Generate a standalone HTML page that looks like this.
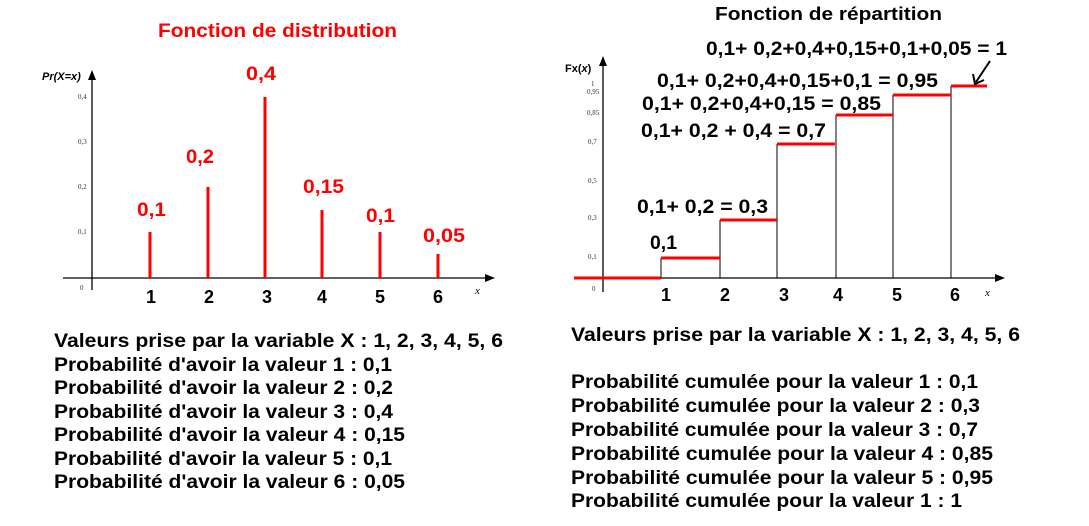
<!DOCTYPE html>
<html><head><meta charset="utf-8"><style>
html,body{margin:0;padding:0;background:#fff;}
svg{display:block;font-family:"Liberation Sans",Arial,sans-serif;}
.b{font-weight:bold;}
</style></head><body>
<svg width="1089" height="526" viewBox="0 0 1089 526" xmlns="http://www.w3.org/2000/svg">
<rect width="1089" height="526" fill="#fff"/>
<!-- LEFT -->
<text x="158" y="37" class="b" font-size="19" fill="#f00" textLength="239" lengthAdjust="spacingAndGlyphs">Fonction de distribution</text>
<line x1="92" y1="290" x2="92" y2="76" stroke="#000" stroke-width="1.3"/>
<polygon points="92,70 88,80 96,80" fill="#000"/>
<line x1="63" y1="278" x2="488" y2="278" stroke="#000" stroke-width="1.3"/>
<polygon points="495,278 485,274 485,282" fill="#000"/>
<text x="42" y="80" font-size="11" class="b" font-style="italic" fill="#000">Pr(X=x)</text>
<g font-size="7" fill="#333" font-family="Liberation Serif,serif">
<text x="78" y="99">0,4</text><text x="78" y="144">0,3</text><text x="78" y="189">0,2</text><text x="78" y="234">0,1</text><text x="80" y="290">0</text>
</g>
<text x="475" y="294" font-size="11" font-style="italic" font-family="Liberation Serif,serif">x</text>
<g stroke="#f00" stroke-width="3">
<line x1="150" y1="278" x2="150" y2="232"/>
<line x1="208" y1="278" x2="208" y2="187"/>
<line x1="265" y1="278" x2="265" y2="97"/>
<line x1="322" y1="278" x2="322" y2="210"/>
<line x1="380" y1="278" x2="380" y2="232"/>
<line x1="438" y1="278" x2="438" y2="254"/>
</g>
<g class="b" font-size="19" fill="#f00" lengthAdjust="spacingAndGlyphs">
<text x="137" y="216" textLength="29" lengthAdjust="spacingAndGlyphs">0,1</text>
<text x="186" y="163" textLength="28" lengthAdjust="spacingAndGlyphs">0,2</text>
<text x="246" y="80" textLength="30" lengthAdjust="spacingAndGlyphs">0,4</text>
<text x="303" y="193" textLength="41" lengthAdjust="spacingAndGlyphs">0,15</text>
<text x="366" y="222" textLength="29" lengthAdjust="spacingAndGlyphs">0,1</text>
<text x="423" y="242" textLength="42" lengthAdjust="spacingAndGlyphs">0,05</text>
</g>
<g class="b" font-size="18" fill="#000" text-anchor="middle">
<text x="151" y="303">1</text><text x="209" y="303">2</text><text x="267" y="303">3</text><text x="322" y="303">4</text><text x="380" y="303">5</text><text x="438" y="303">6</text>
</g>
<g class="b" font-size="19" fill="#000">
<text x="54" y="347" textLength="449" lengthAdjust="spacingAndGlyphs">Valeurs prise par la variable X : 1, 2, 3, 4, 5, 6</text>
<text x="54" y="371" textLength="338" lengthAdjust="spacingAndGlyphs">Probabilité d'avoir la valeur 1 : 0,1</text>
<text x="54" y="394" textLength="339" lengthAdjust="spacingAndGlyphs">Probabilité d'avoir la valeur 2 : 0,2</text>
<text x="54" y="418" textLength="339" lengthAdjust="spacingAndGlyphs">Probabilité d'avoir la valeur 3 : 0,4</text>
<text x="54" y="441" textLength="351" lengthAdjust="spacingAndGlyphs">Probabilité d'avoir la valeur 4 : 0,15</text>
<text x="54" y="465" textLength="338" lengthAdjust="spacingAndGlyphs">Probabilité d'avoir la valeur 5 : 0,1</text>
<text x="54" y="488" textLength="351" lengthAdjust="spacingAndGlyphs">Probabilité d'avoir la valeur 6 : 0,05</text>
</g>
<!-- RIGHT -->
<text x="715" y="20" class="b" font-size="18" fill="#000" textLength="227" lengthAdjust="spacingAndGlyphs">Fonction de répartition</text>
<line x1="603" y1="292" x2="603" y2="62" stroke="#000" stroke-width="1.3"/>
<polygon points="603,56 599,66 607,66" fill="#000"/>
<line x1="574" y1="278" x2="998" y2="278" stroke="#000" stroke-width="1.3"/>
<polygon points="1005,278 995,274 995,282" fill="#000"/>
<text x="565" y="72" font-size="11" class="b" fill="#000">Fx(<tspan font-style="italic">x</tspan>)</text>
<g font-size="7" fill="#333" font-family="Liberation Serif,serif">
<text x="591" y="86">1</text><text x="587" y="94">0,95</text><text x="587" y="115">0,85</text><text x="588" y="144">0,7</text>
<text x="588" y="183">0,5</text><text x="588" y="220">0,3</text><text x="588" y="259">0,1</text><text x="592" y="291">0</text>
</g>
<text x="985" y="296" font-size="11" font-style="italic" font-family="Liberation Serif,serif">x</text>
<g stroke="#000" stroke-width="1">
<line x1="661" y1="258" x2="661" y2="278"/><line x1="720" y1="220" x2="720" y2="278"/>
<line x1="777" y1="144" x2="777" y2="278"/><line x1="836" y1="115" x2="836" y2="278"/>
<line x1="893" y1="95" x2="893" y2="278"/><line x1="951" y1="86" x2="951" y2="278"/>
</g>
<g stroke="#f00" stroke-width="3">
<line x1="574" y1="278" x2="661" y2="278"/>
<line x1="661" y1="258" x2="720" y2="258"/>
<line x1="720" y1="220" x2="777" y2="220"/>
<line x1="777" y1="144" x2="835" y2="144"/>
<line x1="836" y1="115" x2="893" y2="115"/>
<line x1="893" y1="95" x2="951" y2="95"/>
<line x1="951" y1="86" x2="987" y2="86"/>
</g>
<line x1="990" y1="61" x2="976" y2="82" stroke="#000" stroke-width="2"/>
<polyline points="973,74 975,84 984,80" fill="none" stroke="#000" stroke-width="2"/>
<g class="b" font-size="19" fill="#000">
<text x="706" y="55" textLength="301" lengthAdjust="spacingAndGlyphs">0,1+ 0,2+0,4+0,15+0,1+0,05 = 1</text>
<text x="657" y="87" textLength="281" lengthAdjust="spacingAndGlyphs">0,1+ 0,2+0,4+0,15+0,1 = 0,95</text>
<text x="642" y="110" textLength="239" lengthAdjust="spacingAndGlyphs">0,1+ 0,2+0,4+0,15 = 0,85</text>
<text x="641" y="137" textLength="185" lengthAdjust="spacingAndGlyphs">0,1+ 0,2 + 0,4 = 0,7</text>
<text x="637" y="213" textLength="131" lengthAdjust="spacingAndGlyphs">0,1+ 0,2 = 0,3</text>
<text x="650" y="249" textLength="27" lengthAdjust="spacingAndGlyphs">0,1</text>
</g>
<g class="b" font-size="18" fill="#000" text-anchor="middle">
<text x="666" y="301">1</text><text x="725" y="301">2</text><text x="784" y="301">3</text><text x="838" y="301">4</text><text x="897" y="301">5</text><text x="955" y="301">6</text>
</g>
<g class="b" font-size="19" fill="#000">
<text x="571" y="341" textLength="449" lengthAdjust="spacingAndGlyphs">Valeurs prise par la variable X : 1, 2, 3, 4, 5, 6</text>
<text x="571" y="388" textLength="407" lengthAdjust="spacingAndGlyphs">Probabilité cumulée pour la valeur 1 : 0,1</text>
<text x="571" y="412" textLength="409" lengthAdjust="spacingAndGlyphs">Probabilité cumulée pour la valeur 2 : 0,3</text>
<text x="571" y="436" textLength="407" lengthAdjust="spacingAndGlyphs">Probabilité cumulée pour la valeur 3 : 0,7</text>
<text x="571" y="460" textLength="422" lengthAdjust="spacingAndGlyphs">Probabilité cumulée pour la valeur 4 : 0,85</text>
<text x="571" y="484" textLength="422" lengthAdjust="spacingAndGlyphs">Probabilité cumulée pour la valeur 5 : 0,95</text>
<text x="571" y="507" textLength="391" lengthAdjust="spacingAndGlyphs">Probabilité cumulée pour la valeur 1 : 1</text>
</g>
</svg>
</body></html>
